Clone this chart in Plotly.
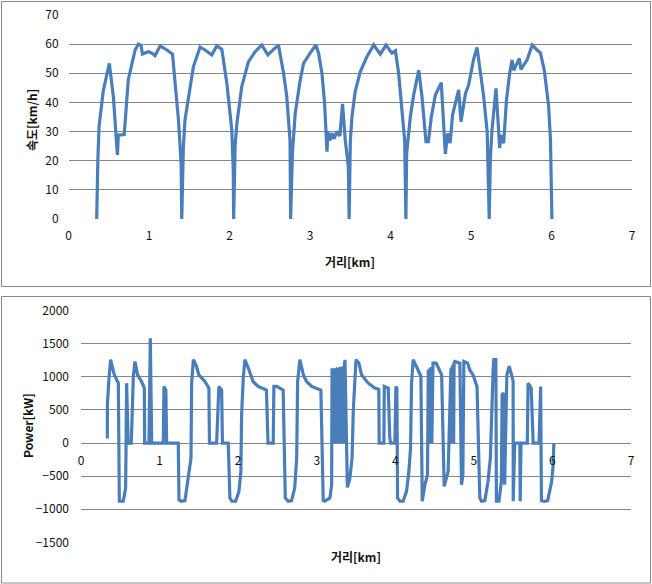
import plotly.graph_objects as go

# ---------------- Data: speed profile ----------------
dist_speed = [0.348, 0.350, 0.362, 0.377, 0.430, 0.505, 0.555, 0.605, 0.617, 0.690,
              0.720, 0.740, 0.825, 0.866, 0.900, 0.916, 0.990, 1.030, 1.073, 1.136,
              1.220, 1.290, 1.364, 1.397, 1.405, 1.425, 1.445, 1.509, 1.550, 1.633,
              1.695, 1.778, 1.840, 1.903, 1.965, 2.027, 2.045, 2.050, 2.068, 2.090,
              2.150, 2.234, 2.317, 2.400, 2.475, 2.545, 2.607, 2.670, 2.710, 2.750,
              2.758, 2.780, 2.815, 2.877, 2.918, 3.000, 3.072, 3.105, 3.147, 3.180,
              3.210, 3.220, 3.250, 3.270, 3.300, 3.330, 3.370, 3.403, 3.437, 3.475,
              3.485, 3.500, 3.520, 3.560, 3.623, 3.706, 3.790, 3.872, 3.943, 4.017,
              4.060, 4.100, 4.140, 4.175, 4.190, 4.200, 4.245, 4.286, 4.350, 4.390,
              4.440, 4.470, 4.506, 4.556, 4.630, 4.680, 4.710, 4.740, 4.770, 4.846,
              4.875, 4.930, 4.970, 5.030, 5.074, 5.116, 5.157, 5.200, 5.218, 5.226,
              5.240, 5.260, 5.310, 5.356, 5.370, 5.405, 5.440, 5.480, 5.510, 5.530,
              5.600, 5.620, 5.697, 5.760, 5.820, 5.862, 5.910, 5.965, 5.987, 5.995,
              6.005]
speed = [0, 9, 20, 31.7, 44, 53.4, 42, 22, 28.8, 29,
         41.4, 47.7, 58, 60, 59.5, 56.6, 57.4, 57, 56, 59.4,
         58, 56.6, 34, 19, 0, 24.8, 34, 45.4, 52.3, 59,
         58, 56.3, 59.4, 58.2, 46.6, 30.5, 16.8, 0, 25, 32.8,
         45.4, 54, 57.4, 59.7, 56.3, 58.2, 59.7, 50, 42, 27,
         0, 22.5, 36.3, 47.7, 53.4, 56.9, 59.7, 56.9, 50, 39.7,
         23.1, 30, 27, 29.5, 27.5, 30, 28.5, 39.5, 27, 18,
         0, 27, 35, 43.7, 50.5, 55.7, 59.7, 56.6, 59.7, 56.9,
         57.7, 50, 38.5, 27, 0, 22.5, 35, 42.5, 51.1, 42,
         26.5, 26.5, 35, 42.5, 46.8, 22.3, 29.4, 26, 35.7, 44.3,
         33.4, 43, 46, 54.6, 58.9, 51.1, 42, 30, 13.4, 0,
         21, 30.5, 44.8, 24.3, 28.8, 26, 40.8, 50, 54.6, 51,
         55.1, 51.3, 54.6, 59.7, 58, 57, 51, 38.5, 27, 14.5,
         0]

# ---------------- Data: power profile ----------------
dist_power = [0.335, 0.336, 0.356, 0.377, 0.424, 0.475, 0.488, 0.538, 0.568, 0.581,
              0.600, 0.640, 0.666, 0.687, 0.720, 0.770, 0.806, 0.810, 0.865, 0.882,
              0.900, 1.047, 1.056, 1.080, 1.090, 1.238, 1.247, 1.280, 1.323, 1.365,
              1.400, 1.408, 1.430, 1.470, 1.500, 1.577, 1.628, 1.635, 1.726, 1.755,
              1.790, 1.800, 1.874, 1.895, 1.920, 1.968, 2.010, 2.035, 2.044, 2.065,
              2.086, 2.130, 2.190, 2.254, 2.360, 2.380, 2.446, 2.455, 2.490, 2.573,
              2.587, 2.600, 2.637, 2.680, 2.720, 2.745, 2.757, 2.786, 2.830, 2.870,
              2.935, 3.053, 3.083, 3.100, 3.168, 3.190,
              3.195, 3.200, 3.205, 3.210, 3.215, 3.220, 3.225, 3.230, 3.235, 3.240,
              3.245, 3.250, 3.255, 3.260, 3.265, 3.270, 3.275, 3.280, 3.285, 3.290,
              3.295, 3.300, 3.305, 3.310, 3.315, 3.320, 3.325, 3.330, 3.335, 3.340,
              3.345, 3.350, 3.355,
              3.360, 3.390, 3.420, 3.450, 3.465, 3.500, 3.536, 3.571, 3.656, 3.740,
              3.790, 3.795, 3.855, 3.860, 3.910, 3.930, 3.940, 3.995, 4.008, 4.020,
              4.029, 4.060, 4.100, 4.143, 4.173, 4.194, 4.207, 4.228, 4.270, 4.326,
              4.343, 4.377, 4.410,
              4.420, 4.425, 4.430, 4.435, 4.440, 4.445, 4.450, 4.455, 4.460, 4.465,
              4.470,
              4.480, 4.520, 4.590, 4.622, 4.673,
              4.708, 4.713, 4.718, 4.723, 4.728, 4.733, 4.738, 4.743, 4.748,
              4.758, 4.822, 4.843, 4.860, 4.873, 4.920, 4.950, 4.990, 5.040, 5.076,
              5.097, 5.140, 5.180, 5.210, 5.224, 5.245, 5.254, 5.280, 5.287, 5.320,
              5.350, 5.360, 5.380, 5.392, 5.420, 5.450, 5.480, 5.500, 5.501, 5.520,
              5.585, 5.590, 5.600, 5.680, 5.690, 5.730, 5.755, 5.830, 5.850, 5.860,
              5.900, 5.940, 5.990, 6.010, 6.018]
power = [70, 580, 980, 1260, 1030, 905, -880, -880, -680, 905,
         0, 0, 1006, 1233, 1030, 930, 830, 0, 0, 1585,
         0, 0, 855, 800, 0, 0, -857, -880, -870, -530,
         -227, 900, 1260, 1160, 1030, 930, 830, 0, 0, 855,
         800, 0, 0, -830, -880, -880, -730, -430, 428, 980,
         1260, 1130, 930, 855, 800, 0, 0, 855, 855, 800,
         -530, -830, -880, -870, -680, -227, 930, 1260, 1030, 930,
         855, 800, -870, -880, -830, -630,
         1130, 0, 1120, 0, 1130, 0, 1110, 0, 1130, 0,
         1130, 0, 1120, 0, 1130, 0, 1130, 0, 1120, 0,
         1130, 0, 1140, 0, 1130, 0, 1130, 0, 1140, 0,
         1150, 0, 1200,
         1258, -670, -550, -230, 480, 1260, 1210, 1030, 905, 830,
         810, 0, 0, 855, 830, 80, 0, 0, 855, 830,
         -830, -880, -880, -730, -430, -75, 900, 1260, 1160, 1010,
         -880, -630, -480,
         1107, 0, 1120, 0, 1130, 0, 1140, 0, 1150, 0,
         1180,
         1208, 1208, 1030, -655, -430,
         1107, 0, 1130, 0, 1150, 0, 1180, 0, 1210,
         1233, 1208, -630, -480, 1233, 1208, 1100, 1030, 855, -830,
         -880, -870, -580, -227, 478, 1107, 1260, 1260, -880, -880,
         -580, 730, 755, -630, 1030, 1160, 1030, 930, -880, 0,
         0, -880, 0, 0, 905, 830, 0, 0, 855, -870,
         -880, -870, -580, -330, 0]

x_ticks = [0, 1, 2, 3, 4, 5, 6, 7]
speed_ticks = [0, 10, 20, 30, 40, 50, 60, 70]
power_ticks = [-1500, -1000, -500, 0, 500, 1000, 1500, 2000]

# ---------------- Layout helpers (pixel -> paper) ----------------
W, H = 652, 584
def px(x):
    return x / W
def py(y):
    return 1 - y / H

LINE = "#4A7EBB"
GRID = "#868686"
TXT = "#111111"
FONT = "Noto Sans CJK KR"

fig = go.Figure()
fig.add_trace(go.Scatter(x=dist_speed, y=speed, mode="lines",
                         line=dict(color=LINE, width=3.2), xaxis="x", yaxis="y",
                         showlegend=False, hoverinfo="skip"))
fig.add_trace(go.Scatter(x=dist_power, y=power, mode="lines",
                         line=dict(color=LINE, width=3.2), xaxis="x2", yaxis="y2",
                         showlegend=False, hoverinfo="skip"))

tickfont = dict(family=FONT, size=12, color=TXT)
common = dict(zeroline=False, showline=False, ticks="", tickfont=tickfont,
              automargin=False, fixedrange=True)
title_font = dict(family=FONT, size=12, color=TXT)

fig.update_layout(
    template="none",
    width=W, height=H,
    margin=dict(l=0, r=0, t=0, b=0, pad=0, autoexpand=False),
    paper_bgcolor="white", plot_bgcolor="white",
    font=dict(family=FONT, color=TXT),
    xaxis=dict(domain=[px(68.7), px(632)], range=[0, 7], tickvals=x_ticks,
               showgrid=False, anchor="y", ticklabelstandoff=8, **common),
    yaxis=dict(domain=[py(219), py(15)], range=[0, 70], tickvals=speed_ticks,
               showgrid=True, gridcolor=GRID, gridwidth=1, anchor="x",
               ticklabelstandoff=9, **common),
    xaxis2=dict(domain=[px(81), px(631)], range=[0, 7], tickvals=x_ticks,
                showgrid=False, anchor="free", position=py(443.3),
                ticklabelstandoff=9, **common),
    yaxis2=dict(domain=[py(542.3), py(310.7)], range=[-1500, 2000], tickvals=power_ticks,
                showgrid=True, gridcolor=GRID, gridwidth=1, anchor="x2",
                ticklabelstandoff=11, **common),
    shapes=[
        dict(type="rect", xref="paper", yref="paper",
             x0=px(1.5), x1=px(650.5), y0=py(286.5), y1=py(1.5),
             line=dict(color="#8a8a8a", width=1), layer="below"),
        dict(type="rect", xref="paper", yref="paper",
             x0=px(1.5), x1=px(650.5), y0=py(583), y1=py(296.5),
             line=dict(color="#8a8a8a", width=1), layer="below"),
    ],
    annotations=[
        dict(text="<b>속도[km/h]</b>", xref="paper", yref="paper",
             x=px(32), y=py(120), textangle=-90, showarrow=False,
             xanchor="center", yanchor="middle", font=title_font),
        dict(text="<b>거리[km]</b>", xref="paper", yref="paper",
             x=px(350), y=py(261), showarrow=False,
             xanchor="center", yanchor="middle", font=title_font),
        dict(text="<b>Power[kW]</b>", xref="paper", yref="paper",
             x=px(27), y=py(425), textangle=-90, showarrow=False,
             xanchor="center", yanchor="middle", font=title_font),
        dict(text="<b>거리[km]</b>", xref="paper", yref="paper",
             x=px(356), y=py(556), showarrow=False,
             xanchor="center", yanchor="middle", font=title_font),
    ],
)

fig.write_html("out.html")
